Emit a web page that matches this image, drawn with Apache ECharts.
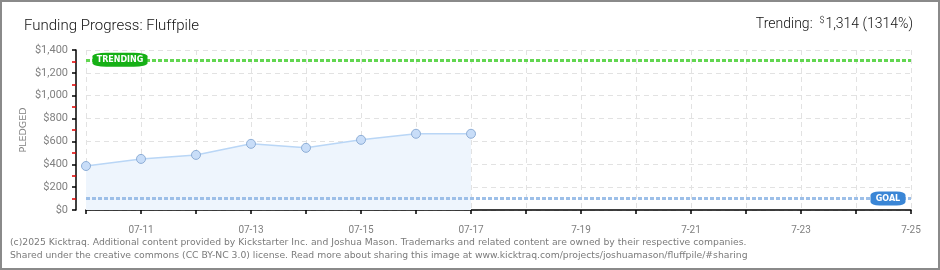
<!DOCTYPE html>
<html><head><meta charset="utf-8">
<script src="https://cdn.jsdelivr.net/npm/echarts@6/dist/echarts.min.js"></script>
<style>
html,body{margin:0;padding:0;background:#fff;}
#wrap{width:940px;height:270px;box-sizing:border-box;border:2px solid #8a8a8a;position:relative;}
#c{position:absolute;left:-2px;top:-2px;width:940px;height:270px;}
</style></head>
<body><div id="wrap"><div id="c"></div></div>
<script>
// ---- data ----
const categories = ['07-10','07-11','07-12','07-13','07-14','07-15','07-16','07-17','7-18','7-19','7-20','7-21','7-22','7-23','7-24','7-25'];
const pledged = [385, 447, 482, 579, 544, 614, 667, 667];
const goalValue = 100;
const trendingValue = 1314;
const trendingPct = '1314%';
const yMin = 0, yMax = 1400, yStep = 200;
const titleText = 'Funding Progress: Fluffpile';
const footerLines = [
  '(c)2025 Kicktraq. Additional content provided by Kickstarter Inc. and Joshua Mason. Trademarks and related content are owned by their respective companies.',
  'Shared under the creative commons (CC BY-NC 3.0) license. Read more about sharing this image at www.kicktraq.com/projects/joshuamason/fluffpile/#sharing'
];

const money = v => '$' + v.toLocaleString('en-US');
const chart = echarts.init(document.getElementById('c'), null, {renderer:'canvas'});
const option = {
  animation: false,
  backgroundColor: 'transparent',
  title: [
    {text: titleText, left: 19, top: 14, textStyle:{fontFamily:'Roboto', fontWeight:300, fontSize:15, color:'#111'}},
    {text: '{a|Trending:  }{s|$}{b|' + trendingValue.toLocaleString('en-US') + ' (' + trendingPct + ')}', right: 22, top: 11,
     textStyle:{rich:{
       a:{fontFamily:'Roboto', fontWeight:300, fontSize:14, color:'#111'},
       s:{fontFamily:'Roboto', fontWeight:300, fontSize:9, color:'#111', verticalAlign:'top', padding:[0,1,7,0]},
       b:{fontFamily:'Roboto', fontWeight:300, fontSize:14, color:'#111'}
     }}}
  ],
  grid: {left: 86, right: 29, top: 50, bottom: 60, containLabel: false, outerBoundsMode: 'none'},
  xAxis: {
    type: 'category', data: categories, boundaryGap: false, offset: 10,
    axisLine: {show: true, lineStyle: {color: '#000', width: 1.5}},
    axisTick: {show: true, interval: 0, length: 4, lineStyle: {color: '#000', width: 1.5}},
    axisLabel: {interval: (i) => i % 2 === 1, color: '#808080', fontFamily: 'Roboto', fontSize: 10, margin: 5},
    splitLine: {show: true, interval: 0, lineStyle: {color: '#e2e2e2', type: [5, 4], width: 1}}
  },
  yAxis: {
    type: 'value', min: yMin, max: yMax, interval: yStep, offset: 10,
    name: 'PLEDGED', nameLocation: 'middle', nameRotate: 90, nameGap: 47, nameMoveOverlap: false,
    nameTextStyle: {color: '#808080', fontFamily: 'DejaVu Sans', fontSize: 9.5, fontWeight: 'normal'},
    axisLine: {show: true, lineStyle: {color: '#000', width: 1.5}},
    axisTick: {show: true, length: 4, lineStyle: {color: '#000', width: 1.5}},
    minorTick: {show: true, splitNumber: 2, length: 4, lineStyle: {color: '#e00000', width: 1.5}},
    axisLabel: {formatter: money, color: '#808080', fontFamily: 'Roboto', fontSize: 11, margin: 8},
    splitLine: {show: true, lineStyle: {color: '#e2e2e2', type: [5, 4], width: 1}}
  },
  series: [{
    type: 'line', data: pledged, symbol: 'circle', symbolSize: 9,
    lineStyle: {color: '#b9d6f6', width: 1.5},
    itemStyle: {color: '#c8ddf8', borderColor: '#8eaed6', borderWidth: 1},
    areaStyle: {color: '#eef5fd', opacity: 1},
    markLine: {
      silent: true, symbol: 'none', label: {show: false},
      data: [
        {yAxis: trendingValue, lineStyle: {color: '#62d651', width: 3, type: [4, 2]}},
        {yAxis: goalValue, lineStyle: {color: '#9dbfe8', width: 3, type: [4, 2]}}
      ]
    },
    markPoint: {
      silent: true,
      data: [
        {coord: [0, trendingValue], symbol: 'roundRect', symbolSize: [55, 14], symbolOffset: [34, 0],
         itemStyle: {color: '#16b016'},
         label: {show: true, formatter: 'TRENDING', color: '#fff', fontFamily: 'DejaVu Sans', fontSize: 8, fontWeight: 'bold'}},
        {coord: [categories.length - 1, goalValue], symbol: 'roundRect', symbolSize: [35, 14], symbolOffset: [-23, 0],
         itemStyle: {color: '#3a86d6'},
         label: {show: true, formatter: 'GOAL', color: '#fff', fontFamily: 'DejaVu Sans', fontSize: 8, fontWeight: 'bold'}}
      ]
    }
  }],
  graphic: [
    {type: 'text', left: 10, top: 238, style: {text: footerLines[0], fill: '#7a7a7a', font: '9.25px "DejaVu Sans"'}},
    {type: 'text', left: 10, top: 251, style: {text: footerLines[1], fill: '#7a7a7a', font: '9.25px "DejaVu Sans"'}}
  ]
};
chart.setOption(option);
</script>
</body></html>
